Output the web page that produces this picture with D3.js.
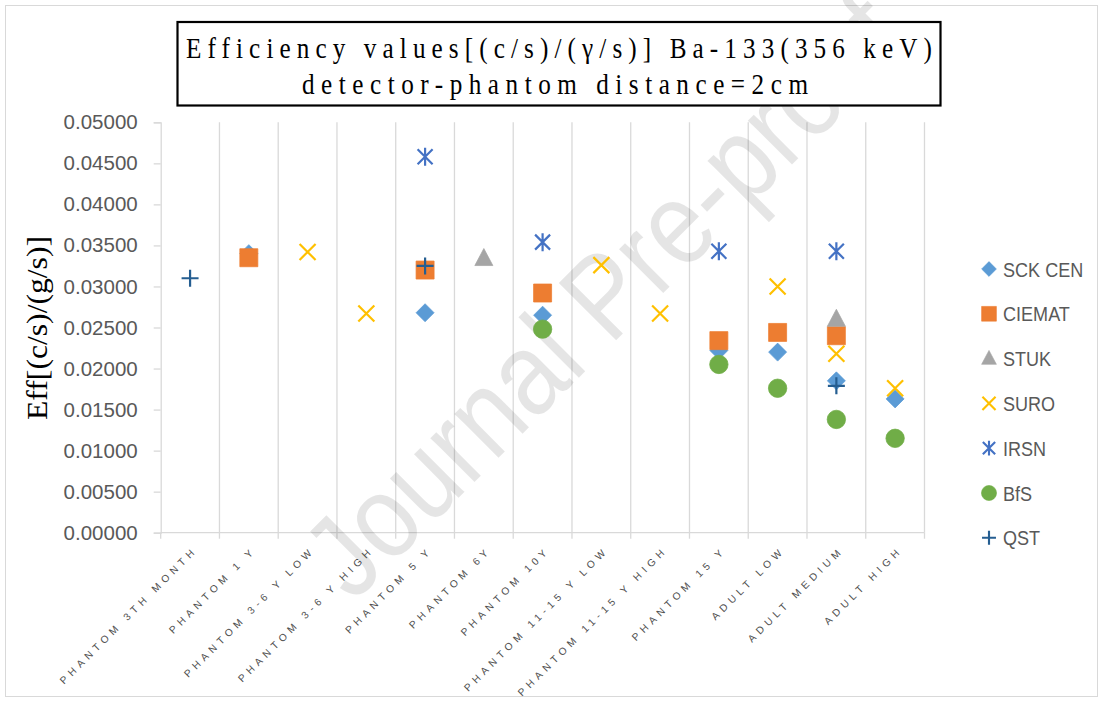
<!DOCTYPE html>
<html>
<head>
<meta charset="utf-8">
<script src="https://cdn.jsdelivr.net/npm/d3@7"></script>
<style>
  body { margin: 0; background: #fff; }
  svg text { font-family: "Liberation Sans", Arial, sans-serif; }
</style>
</head>
<body>
<div id="chart"></div>
<script>
var categories = ["PHANTOM 3TH MONTH", "PHANTOM 1 Y", "PHANTOM 3-6 Y LOW", "PHANTOM 3-6 Y HIGH",
  "PHANTOM 5 Y", "PHANTOM 6Y", "PHANTOM 10Y", "PHANTOM 11-15 Y LOW", "PHANTOM 11-15 Y HIGH",
  "PHANTOM 15 Y", "ADULT LOW", "ADULT MEDIUM", "ADULT HIGH"];

var seriesNames = ["SCK CEN", "CIEMAT", "STUK", "SURO", "IRSN", "BfS", "QST"];

var sckCen = [null, 0.0340, null, null, 0.0268, null, 0.0265, null, null, 0.0222, 0.0220, 0.0185, 0.0163];
var ciemat = [null, 0.0335, null, null, 0.0320, null, 0.0292, null, null, 0.0234, 0.0244, 0.0240, null];
var stuk   = [null, null, null, null, null, 0.0334, null, null, null, null, null, 0.0260, null];
var suro   = [null, null, 0.0342, 0.0267, null, null, null, 0.0326, 0.0267, null, 0.0300, 0.0218, 0.0176];
var irsn   = [null, null, null, null, 0.0458, null, 0.0354, null, null, 0.0343, null, 0.0343, null];
var bfs    = [null, null, null, null, null, null, 0.0248, null, null, 0.0205, 0.0176, 0.0138, 0.0115];
var qst    = [0.0310, null, null, null, 0.0325, null, null, null, null, null, null, 0.0179, null];

var yTicks = [0, 0.005, 0.01, 0.015, 0.02, 0.025, 0.03, 0.035, 0.04, 0.045, 0.05];

var allValues = [sckCen, ciemat, stuk, suro, irsn, bfs, qst];
var colors = ["#5B9BD5", "#ED7D31", "#A5A5A5", "#FFC000", "#4472C4", "#70AD47", "#255E91"];
var shapes = ["diamond", "square", "triangle", "x", "star", "circle", "plus"];

var svgWidth = 1104, svgHeight = 701;

var svg = d3.select("#chart").append("svg")
  .attr("width", svgWidth)
  .attr("height", svgHeight);

// outer chart frame
svg.append("rect")
  .attr("x", 5.5).attr("y", 5.5)
  .attr("width", 1092).attr("height", 691)
  .attr("fill", "#fff")
  .attr("stroke", "#D9D9D9");

var x = d3.scaleBand().domain(categories).range([160.7, 924.5]).padding(0);
var y = d3.scaleLinear().domain([0, 0.05]).range([532.7, 122.3]);

// vertical gridlines at category borders
var borders = categories.map(function(c) { return x(c); }).concat([x.range()[1]]);
svg.append("g").selectAll("line")
  .data(borders.slice(1))
  .enter().append("line")
  .attr("x1", d => d).attr("x2", d => d)
  .attr("y1", y(0.05)).attr("y2", y(0))
  .attr("stroke", "#D9D9D9").attr("stroke-width", 1.3);

// x axis line + ticks
svg.append("line")
  .attr("x1", x.range()[0]).attr("x2", x.range()[1])
  .attr("y1", y(0)).attr("y2", y(0))
  .attr("stroke", "#D9D9D9").attr("stroke-width", 1.3);
svg.append("g").selectAll("line")
  .data(borders)
  .enter().append("line")
  .attr("x1", d => d).attr("x2", d => d)
  .attr("y1", y(0)).attr("y2", y(0) + 6)
  .attr("stroke", "#D9D9D9").attr("stroke-width", 1.3);

// y axis
var leftAxis = d3.axisLeft(y).tickValues(yTicks).tickFormat(d3.format(".5f")).tickSizeOuter(0).tickSize(7).tickPadding(16);
var yAxis = svg.append("g")
  .attr("transform", `translate(${x.range()[0]},0)`)
  .call(leftAxis);
yAxis.select(".domain").attr("stroke", "#D9D9D9").attr("stroke-width", 1.3);
yAxis.selectAll(".tick line").attr("stroke", "#D9D9D9").attr("stroke-width", 1.3);
yAxis.selectAll(".tick text")
  .attr("fill", "#595959")
  .style("font-size", "20.5px")
  .style("font-family", "'Liberation Sans', Arial, sans-serif");

// x labels, rotated
svg.append("g").selectAll("text")
  .data(categories)
  .enter().append("text")
  .attr("transform", d => `translate(${x(d) + x.bandwidth() / 2 + 8}, ${y(0) + 18}) rotate(-45)`)
  .attr("text-anchor", "end")
  .attr("fill", "#505050")
  .style("font-size", "10.2px")
  .style("letter-spacing", "4.5px")
  .text(d => d);

// watermark
svg.append("text")
  .attr("transform", "translate(603,295) rotate(-45)")
  .attr("text-anchor", "middle")
  .attr("dy", "0.35em")
  .attr("fill", "#000")
  .attr("fill-opacity", 0.1)
  .style("font-size", "118px")
  .attr("textLength", 790)
  .attr("lengthAdjust", "spacingAndGlyphs")
  .text("Journal Pre-proof");

// marker shapes
function markerPath(shape) {
  switch (shape) {
    case "diamond": return "M0,-9L9,0L0,9L-9,0Z";
    case "square": return "M-9,-9H9V9H-9Z";
    case "triangle": return "M0,-10L9,7L-9,7Z";
    case "circle": return d3.symbol(d3.symbolCircle, 266)();
    case "x": return "M-8,-8L8,8M-8,8L8,-8";
    case "star": return "M-7.5,-7.5L7.5,7.5M-7.5,7.5L7.5,-7.5M0,-9V9";
    case "plus": return "M-8.5,0H8.5M0,-8.5V8.5";
  }
}
function isFilled(shape) {
  return ["diamond", "square", "triangle", "circle"].indexOf(shape) >= 0;
}

// data points
allValues.forEach(function(vals, s) {
  var pts = vals.map(function(v, i) { return { cat: categories[i], v: v }; })
    .filter(d => d.v !== null);
  svg.append("g").selectAll("path")
    .data(pts)
    .enter().append("path")
    .attr("transform", d => `translate(${x(d.cat) + x.bandwidth() / 2}, ${y(d.v)})`)
    .attr("d", markerPath(shapes[s]))
    .attr("fill", isFilled(shapes[s]) ? colors[s] : "none")
    .attr("stroke", colors[s])
    .attr("stroke-width", isFilled(shapes[s]) ? 0.75 : 2.2);
});

// legend
var legend = svg.append("g");
seriesNames.forEach(function(name, s) {
  var ly = 269 + s * 44.8;
  legend.append("path")
    .attr("transform", `translate(989, ${ly}) scale(0.82)`)
    .attr("d", markerPath(shapes[s]))
    .attr("fill", isFilled(shapes[s]) ? colors[s] : "none")
    .attr("stroke", colors[s])
    .attr("stroke-width", isFilled(shapes[s]) ? 0.75 : 2.6);
  legend.append("text")
    .attr("transform", `translate(1003, ${ly}) scale(0.86,1)`)
    .attr("dy", "0.36em")
    .attr("fill", "#595959")
    .style("font-size", "21px")
    .text(name);
});

// y axis title
svg.append("text")
  .attr("transform", "translate(47, 328) rotate(-90)")
  .attr("text-anchor", "middle")
  .attr("fill", "#000")
  .style("font-family", "'Liberation Serif', 'Times New Roman', serif")
  .style("font-size", "29px")
  .attr("textLength", 184)
  .attr("lengthAdjust", "spacingAndGlyphs")
  .text("Eff[(c/s)/(g/s)]");

// title box
svg.append("rect")
  .attr("x", 177.5).attr("y", 22)
  .attr("width", 763).attr("height", 83.5)
  .attr("fill", "#fff")
  .attr("stroke", "#000").attr("stroke-width", 2.2);
svg.append("text")
  .attr("transform", "translate(559, 58) scale(0.84,1)")
  .attr("text-anchor", "middle")
  .style("font-family", "'Liberation Serif', 'Times New Roman', serif")
  .style("font-size", "30px")
  .attr("textLength", 746 / 0.84)
  .attr("lengthAdjust", "spacing")
  .text("Efficiency values[(c/s)/(γ/s)] Ba-133(356 keV)");
svg.append("text")
  .attr("transform", "translate(555, 94) scale(0.84,1)")
  .attr("text-anchor", "middle")
  .style("font-family", "'Liberation Serif', 'Times New Roman', serif")
  .style("font-size", "30px")
  .attr("textLength", 506 / 0.84)
  .attr("lengthAdjust", "spacing")
  .text("detector-phantom distance=2cm");
</script>
</body>
</html>
